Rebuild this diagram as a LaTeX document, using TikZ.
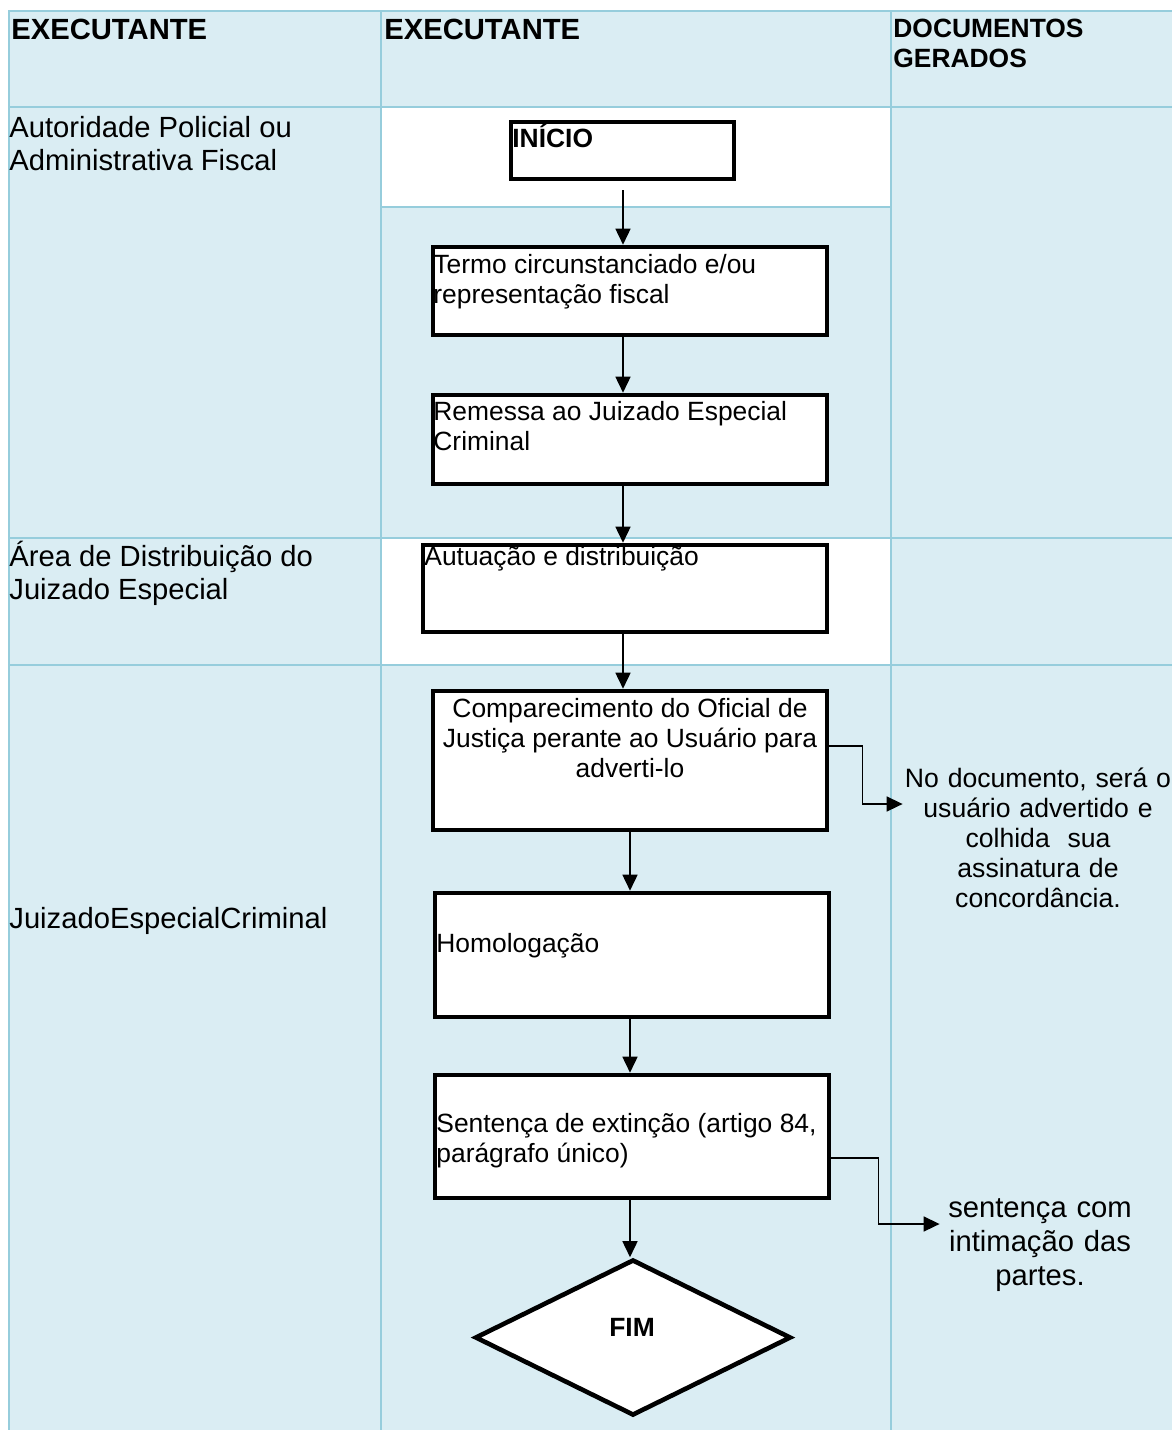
\documentclass[tikz,border=0pt]{standalone}
\usepackage{fontspec}
\setmainfont{Liberation Sans}
\usetikzlibrary{arrows.meta,shapes.geometric}
\definecolor{laneblue}{HTML}{DAEDF3}
\definecolor{gridline}{HTML}{96CDDC}

\tikzset{
  stepbox/.style={draw=black, line width=2.3pt, fill=white, inner sep=0pt},
  boxtext/.style={inner sep=0pt, anchor=north west, align=left, font=\fontsize{13.2}{15}\selectfont},
  lanetext/.style={inner sep=0pt, anchor=north west, align=left, font=\fontsize{14.6}{16.4}\selectfont},
  headtext/.style={inner sep=0pt, anchor=north west, align=left, font=\fontsize{14.6}{16.4}\selectfont\bfseries},
  doctext/.style={inner sep=0pt, anchor=north, align=center},
  flow/.style={line width=0.8pt, -{Triangle[length=8pt,width=7.5pt]}},
  grid/.style={gridline, line width=1pt}
}

\begin{document}
\begin{tikzpicture}[x=0.5pt, y=-0.5pt]
  \useasboundingbox (0,0) rectangle (1172,1430);
  % table cells
  \fill[laneblue] (9,11) rectangle (1172,1430);
  \fill[white] (381,107) rectangle (891,207);
  \fill[white] (381,538) rectangle (891,665);
  \draw[grid] (9,1430) -- (9,11) -- (1172,11);
  \draw[grid] (381,11) -- (381,1430);
  \draw[grid] (891,11) -- (891,1430);
  \foreach \y in {107,538,665}
    \draw[grid] (9,\y) -- (1172,\y);
  \draw[grid] (381,207) -- (891,207);

  % headers and lanes
  \node[headtext] (hexec) at (11,19) {EXECUTANTE};
  \node[headtext] (hexecb) at (384,19) {EXECUTANTE};
  \node[headtext, font=\fontsize{13.2}{15}\selectfont\bfseries] (hdocs) at (893,19) {DOCUMENTOS\\GERADOS};
  \node[lanetext] (lpolicia) at (9,116) {Autoridade Policial ou\\Administrativa Fiscal};
  \node[lanetext] (ldistrib) at (9,541) {Área de Distribuição do\\Juizado Especial};
  \node[lanetext] (ljuizado) at (9,907) {JuizadoEspecialCriminal};

  % flow boxes
  \node[stepbox, minimum width=111.5pt, minimum height=28.5pt] (inicio) at (622.5,150.5) {};
  \node[boxtext, font=\fontsize{13.2}{15}\selectfont\bfseries] (inicio-t) at (512,124) {INÍCIO};
  \node[stepbox, minimum width=197pt, minimum height=44pt] (termo) at (630,291) {};
  \node[boxtext] (termo-t) at (433,254) {Termo circunstanciado e/ou\\representação fiscal};
  \node[stepbox, minimum width=197pt, minimum height=44.5pt] (remessa) at (630,439.5) {};
  \node[boxtext] (remessa-t) at (433,401) {Remessa ao Juizado Especial\\Criminal};
  \node[stepbox, minimum width=202pt, minimum height=43.5pt] (autuacao) at (625,588.5) {};
  \node[boxtext] (autuacao-t) at (424,546) {Autuação e distribuição};
  \node[stepbox, minimum width=197pt, minimum height=69.5pt] (comparec) at (630,760.5) {};
  \node[boxtext, anchor=north, align=center] (comparec-t) at (630,698) {Comparecimento do Oficial de\\Justiça perante ao Usuário para\\adverti-lo};
  \node[stepbox, minimum width=197pt, minimum height=62pt] (homolog) at (632,955) {};
  \node[boxtext] (homolog-t) at (436,933) {Homologação};
  \node[stepbox, minimum width=197pt, minimum height=61.5pt] (sentenca) at (632,1136.5) {};
  \node[boxtext] (sentenca-t) at (436,1113) {Sentença de extinção (artigo 84,\\parágrafo único)};
  \node[stepbox, diamond, minimum width=158pt, minimum height=78pt] (fim) at (633,1337.5) {};
  \node[font=\fontsize{13.2}{15}\selectfont\bfseries, inner sep=0pt] (fim-t) at (632,1327) {FIM};

  % generated documents
  \node[doctext, text width=135pt, font=\fontsize{13.3}{15}\selectfont] (docadv) at (1038,768)
    {No documento, será o\\usuário advertido e\\colhida\ \ sua\\assinatura de\\concordância.};
  \node[doctext, text width=100pt, font=\fontsize{14.6}{17}\selectfont] (docsent) at (1040,1198)
    {sentença com\\intimação das\\partes.};

  % connectors
  \coordinate (spinea) at (623,0);
  \coordinate (spineb) at (630,0);
  \draw[flow] ([yshift=-4.5pt]inicio.south -| spinea) -- (termo.north -| spinea);
  \draw[flow] (termo.south -| spinea) -- (remessa.north -| spinea);
  \draw[flow] (remessa.south -| spinea) -- (autuacao.north -| spinea);
  \draw[flow] (autuacao.south -| spinea) -- (comparec.north -| spinea);
  \draw[flow] (comparec.south -| spineb) -- (homolog.north -| spineb);
  \draw[flow] (homolog.south -| spineb) -- (sentenca.north -| spineb);
  \draw[flow] (sentenca.south -| spineb) -- (fim.north -| spineb);
  \draw[flow] ([yshift=7.25pt]comparec.east) -- ++(16.5pt,0) |- ([yshift=-18pt]docadv.north west);
  \draw[flow] ([yshift=-10.75pt]sentenca.east) -- ++(23.5pt,0) |- ([yshift=-13pt]docsent.north west);
\end{tikzpicture}
\end{document}
